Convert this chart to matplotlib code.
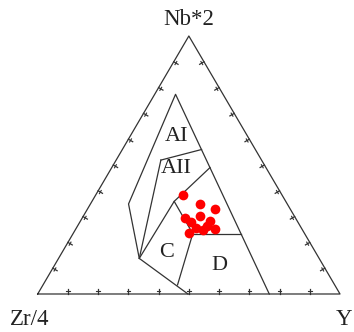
import matplotlib.pyplot as plt
import numpy as np

# sample compositions in percent: Nb*2 and Y (Zr/4 is the remainder)
sample_nb = [38.4, 34.9, 32.8, 29.3, 30.2, 27.9, 28.1, 26.4, 23.6, 24.8, 25.0, 25.6]
sample_y = [28.8, 36.3, 42.3, 34.1, 38.6, 36.9, 43.0, 42.8, 38.1, 42.3, 46.2, 39.6]

# field boundaries, each a polyline of (Nb*2, Y) percent
field_lines = [
    [(0, 76.6), (77.4, 6.9), (34.9, 12.6), (13.8, 26.7), (0, 49.7)],  # outer field
    [(51.9, 14.8), (56.0, 26.2)],   # AI / AII
    [(51.9, 14.8), (13.8, 26.7)],   # AII left
    [(49.0, 32.5), (35.9, 27.2), (13.8, 26.7)],  # AII lower edge
    [(35.9, 27.2), (23.4, 39.6), (3.5, 44.5)],   # C right edge
    [(23.4, 39.6), (23.4, 55.5)],   # B / D
]

field_names = ["AI", "AII", "C", "D"]
field_label_nb = [60.9, 48.8, 15.9, 11.2]
field_label_y = [15.5, 21.5, 34.7, 54.5]

corner_names = ["Nb*2", "Zr/4", "Y"]


def tern(nb, y):
    nb = np.asarray(nb, dtype=float) / 100.0
    y = np.asarray(y, dtype=float) / 100.0
    return y + nb / 2.0, nb


fig = plt.figure(figsize=(3.54, 3.32), dpi=100)
ax = fig.add_axes([0, 0, 1, 1])
ax.set_xlim(-0.1247, 1.0463)
ax.set_ylim(-0.1473, 1.1395)
ax.axis("off")

lc = "#333333"
lw = 0.9

# outer triangle
ax.plot([0, 1, 0.5, 0], [0, 0, 1, 0], color=lc, lw=lw)

# ticks every 10 %, pointing inward (pixel scales used for direction)
sx, sy = 302.3, 258.0
tick_len = 5.0
edges = [((0, 0), (1, 0)), ((1, 0), (0.5, 1)), ((0.5, 1), (0, 0))]
for (x0, y0), (x1, y1) in edges:
    dx, dy = (x1 - x0) * sx, (y1 - y0) * sy
    n = np.hypot(dx, dy)
    nx, ny = -dy / n, dx / n  # left normal = inward for ccw order
    for t in np.arange(1, 10) / 10.0:
        px, py = x0 + t * (x1 - x0), y0 + t * (y1 - y0)
        ax.plot([px, px + nx * tick_len / sx], [py, py + ny * tick_len / sy],
                color=lc, lw=lw)
        # little crossbar
        bx, by = dx / n * 1.8, dy / n * 1.8
        ax.plot([px + nx * 2.5 / sx - bx / sx, px + nx * 2.5 / sx + bx / sx],
                [py + ny * 2.5 / sy - by / sy, py + ny * 2.5 / sy + by / sy],
                color=lc, lw=0.8)

for line in field_lines:
    nb, y = zip(*line)
    x, h = tern(nb, y)
    ax.plot(x, h, color=lc, lw=lw)

x, h = tern(sample_nb, sample_y)
ax.plot(x, h, "o", color="#ff0000", markersize=7, markeredgewidth=0)

font = {"family": "Liberation Serif", "color": "#222222"}
x, h = tern(field_label_nb, field_label_y)
for name, xi, hi in zip(field_names, x, h):
    ax.text(xi, hi, name, ha="center", va="center", fontsize=16, **font)

ax.text(0.5, 1.065, corner_names[0], ha="center", va="center", fontsize=16.5, **font)
ax.text(-0.025, -0.10, corner_names[1], ha="center", va="center", fontsize=16.5, **font)
ax.text(1.012, -0.10, corner_names[2], ha="center", va="center", fontsize=16.5, **font)

fig.savefig("out.png", dpi=100)
